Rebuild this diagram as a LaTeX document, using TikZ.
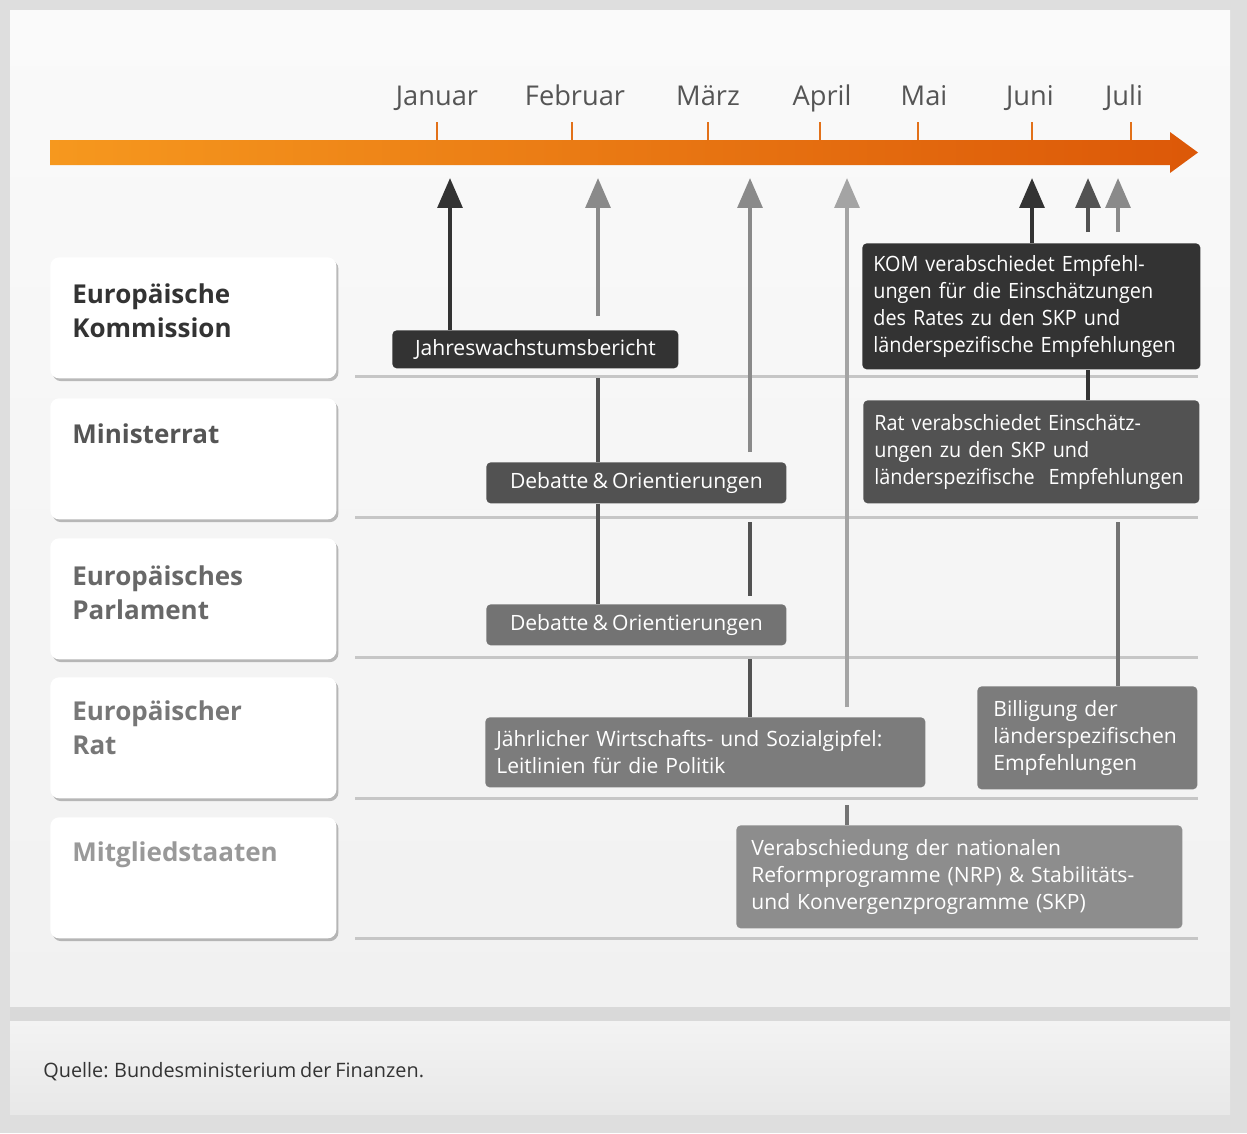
\documentclass[tikz,border=0pt]{standalone}
\usepackage{fontspec}
\setmainfont{Open Sans}
\newfontfamily\boxfont[WordSpace=0.75]{Open Sans}
\newfontfamily\boxfontn[FakeStretch=0.94,WordSpace=0.75]{Open Sans}
\usetikzlibrary{arrows.meta,shadows}
\newdimen\pxu \pxu=0.02cm
\definecolor{outerbg}{HTML}{DEDEDE}
\definecolor{stripe}{HTML}{D9D9D9}
\definecolor{panelT}{HTML}{FAFAFA}
\definecolor{panelB}{HTML}{F1F1F1}
\definecolor{footT}{HTML}{F3F3F3}
\definecolor{footB}{HTML}{E8E8E8}
\definecolor{orL}{HTML}{F6981E}
\definecolor{orR}{HTML}{DC5808}
\definecolor{tickc}{HTML}{E2711A}
\definecolor{monthc}{HTML}{555555}
\definecolor{sepc}{HTML}{C6C6C6}
\definecolor{cA}{HTML}{333333}
\definecolor{cB}{HTML}{525252}
\definecolor{cC}{HTML}{737373}
\definecolor{cD}{HTML}{7C7C7C}
\definecolor{cE}{HTML}{8D8D8D}
\definecolor{lgray}{HTML}{8A8A8A}
\definecolor{llgray}{HTML}{A4A4A4}
\definecolor{labA}{HTML}{333333}
\definecolor{labB}{HTML}{555555}
\definecolor{labC}{HTML}{686868}
\definecolor{labD}{HTML}{777777}
\definecolor{labE}{HTML}{999999}
\tikzset{
  evbox/.style={rounded corners=2.5pt, text=white, inner xsep=11\pxu, inner ysep=0pt,
    font=\boxfont\fontsize{12}{15.3}\selectfont, align=left, anchor=north west},
  evboxn/.style={evbox, font=\boxfontn\fontsize{12}{15.3}\selectfont},
  cbox/.style={rounded corners=2.5pt, text=white, inner sep=0pt,
    font=\boxfont\fontsize{12}{15.3}\selectfont, align=center, anchor=north west},
  labbox/.style={rounded corners=5pt, fill=white, draw=none, inner sep=0pt, anchor=north west,
    minimum width=286\pxu, minimum height=121\pxu,
    drop shadow={shadow xshift=1.2pt, shadow yshift=-1.6pt, opacity=0.25, fill=black}},
  labtext/.style={anchor=north west, inner sep=0pt, align=left,
    font=\bfseries\fontsize{14.8}{19.6}\selectfont},
  month/.style={anchor=base, inner sep=0pt, text=monthc, font=\fontsize{15.5}{18}\selectfont},
  tickl/.style={draw=tickc, line width=1.3pt},
  sep/.style={draw=sepc, line width=1.7pt},
  conn/.style={line width=2.3pt},
  upar/.style={line width=2.3pt, -{Triangle[width=14pt,length=17pt]}},
}
\begin{document}
\begin{tikzpicture}[x=0.02cm,y=-0.02cm]
\useasboundingbox (0,0) rectangle (1247,1133);
% background
\fill[outerbg] (0,0) rectangle (1247,1133);
\shade[top color=panelT, bottom color=panelB] (10,10) rectangle (1230,1007);
\fill[stripe] (10,1007) rectangle (1230,1021) ;
\shade[top color=footT, bottom color=footB] (10,1021) rectangle (1230,1114);
% timeline
\shade[left color=orL, right color=orR] (50,140) -- (1170,140) -- (1170,132) -- (1198,152.5)
  -- (1170,173) -- (1170,165) -- (50,165) -- cycle;
\foreach \x/\m/\mx in {437/Januar/437, 572/Februar/575, 708/März/708, 820/April/822,
   918/Mai/924, 1032/Juni/1030, 1131/Juli/1124}{
  \draw[tickl] (\x,122) -- (\x,140);
  \node[month] (m\x) at (\mx,105) {\m};
}
% separators
\foreach \y in {376,517,657,798,938}{ \draw[sep] (355,\y) -- (1198,\y); }
% left label boxes
\node[labbox] (lbA) at (50,257) {};
\node[labbox] (lbB) at (50,398) {};
\node[labbox] (lbC) at (50,538) {};
\node[labbox] (lbD) at (50,677) {};
\node[labbox] (lbE) at (50,817) {};
\node[labtext, text=labA] (ltA) at (72,283) {Europäische\\Kommission};
\node[labtext, text=labB] (ltB) at (72,423) {Ministerrat};
\node[labtext, text=labC] (ltC) at (72,565) {Europäisches\\Parlament};
\node[labtext, text=labD] (ltD) at (72,700) {Europäischer\\Rat};
\node[labtext, text=labE] (ltE) at (72,841) {Mitgliedstaaten};
% coordinates for arrow tips and gaps
\coordinate (tipA) at (450,178);
\coordinate (tipB) at (598,178);
\coordinate (tipC) at (750,178);
\coordinate (tipD) at (847,178);
\coordinate (tipE) at (1032,178);
\coordinate (tipF) at (1088,178);
\coordinate (tipG) at (1118,178);
\coordinate (gB1) at (598,316);
\coordinate (gB2) at (598,378);
\coordinate (gC1) at (750,452);
\coordinate (gC2) at (750,522);
\coordinate (gC3) at (750,596);
\coordinate (gC4) at (750,659);
\coordinate (gD1) at (847,707);
\coordinate (gD2) at (847,805);
\coordinate (gF) at (1088,232);
\coordinate (gG) at (1118,232);
\coordinate (gG2) at (1118,522);
% event boxes
\node[cbox, fill=cA, minimum width=286\pxu, minimum height=38\pxu] (jahr) at (392,330) {Jahreswachstumsbericht};
\node[evboxn, fill=cA, text width=316\pxu, minimum height=126\pxu] (kom) at (862,243)
  {KOM verabschiedet Empfehl-\\ungen für die Einschätzungen\\des Rates zu den SKP und\\länderspezifische Empfehlungen};
\node[cbox, fill=cB, minimum width=300\pxu, minimum height=41\pxu] (debM) at (486,462) {Debatte \& Orientierungen};
\node[evboxn, fill=cB, text width=314\pxu, minimum height=103\pxu] (rat) at (863,400)
  {Rat verabschiedet Einschätz-\\ungen zu den SKP und\\länderspezifische\ \ Empfehlungen};
\node[cbox, fill=cC, minimum width=300\pxu, minimum height=41\pxu] (debP) at (486,604) {Debatte \& Orientierungen};
\node[evbox, fill=cD, text width=418\pxu, minimum height=70\pxu] (jahrl) at (485,717)
  {Jährlicher Wirtschafts- und Sozialgipfel:\\Leitlinien für die Politik};
\node[evbox, inner xsep=16\pxu, fill=cD, text width=188\pxu, minimum height=103\pxu] (bill) at (977,686)
  {Billigung der\\länderspezifischen\\Empfehlungen};
\node[evbox, inner xsep=15\pxu, fill=cE, text width=416\pxu, minimum height=103\pxu] (verab) at (736,825)
  {Verabschiedung der nationalen\\Reformprogramme (NRP) \& Stabilitäts-\\und Konvergenzprogramme (SKP)};
% connectors
\draw[upar, cA] (jahr.north -| tipA) -- (tipA);
\draw[upar, lgray] (gB1) -- (tipB);
\draw[conn, cB] (debM.north -| tipB) -- (gB2);
\draw[conn, cB] (debM.south -| tipB) -- (debP.north -| tipB);
\draw[upar, lgray] (gC1) -- (tipC);
\draw[conn, cB] (gC2) -- (gC3);
\draw[conn, cB] (jahrl.north -| tipC) -- (gC4);
\draw[upar, llgray] (gD1) -- (tipD);
\draw[conn, cC] (verab.north -| tipD) -- (gD2);
\draw[upar, cA] (kom.north -| tipE) -- (tipE);
\draw[upar, cB] (gF) -- (tipF);
\draw[conn, cA] (rat.north -| tipF) -- (kom.south -| tipF);
\draw[upar, lgray] (gG) -- (tipG);
\draw[conn, cC] (bill.north -| tipG) -- (gG2);
% source
\node[anchor=base west, inner sep=0pt, text=cA, font=\boxfont\fontsize{11.3}{14}\selectfont] (src) at (43,1077)
  {Quelle: Bundesministerium der Finanzen.};
\end{tikzpicture}
\end{document}
